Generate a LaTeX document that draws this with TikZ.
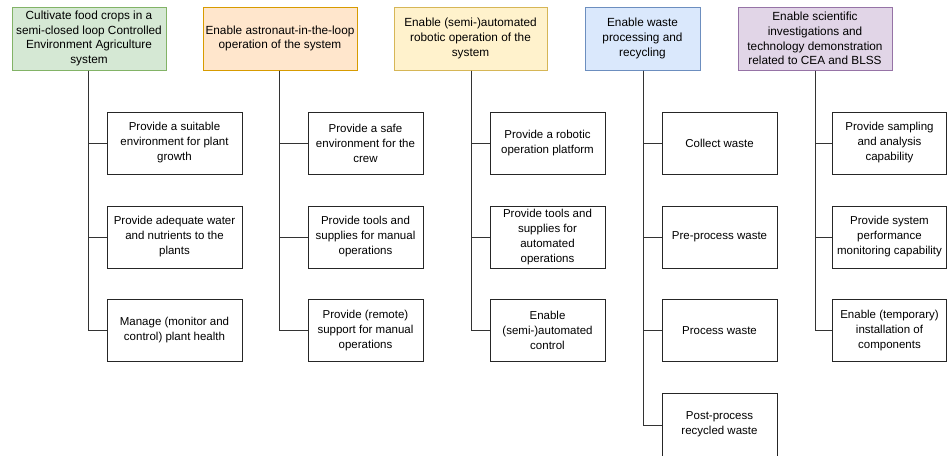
\documentclass[tikz,border=0pt]{standalone}
\usepackage{fontspec}
\setmainfont{Liberation Sans}
\definecolor{gfill}{HTML}{D5E8D4}\definecolor{gdraw}{HTML}{82B366}
\definecolor{ofill}{HTML}{FFE6CC}\definecolor{odraw}{HTML}{D79B00}
\definecolor{yfill}{HTML}{FFF2CC}\definecolor{ydraw}{HTML}{D6B656}
\definecolor{bfill}{HTML}{DAE8FC}\definecolor{bdraw}{HTML}{6C8EBF}
\definecolor{pfill}{HTML}{E1D5E7}\definecolor{pdraw}{HTML}{9673A6}
\definecolor{linec}{HTML}{333333}
\tikzset{
  hdr/.style={draw=#1draw, fill=#1fill, line width=1pt, inner sep=0pt, align=center,
    font=\fontsize{11.8}{14.7}\selectfont},
  sub/.style={draw=black!85, line width=0.9pt, inner sep=0pt, align=center,
    font=\fontsize{11.5}{15}\selectfont},
  conn/.style={draw=linec, line width=0.9pt}
}
\begin{document}
\begin{tikzpicture}[x=1pt,y=-1pt]
\useasboundingbox (0,0) rectangle (947,455);
\clip (0,0) rectangle (947,455);
% headers
\node[hdr=g, minimum width=154pt, minimum height=63pt] (h1) at (89,38.5) {Cultivate food crops in a\\semi-closed loop Controlled\\Environment Agriculture\\system};
\node[hdr=o, minimum width=154pt, minimum height=63pt] (h2) at (280,38.5) {Enable astronaut-in-the-loop\\operation of the system};
\node[hdr=y, minimum width=153pt, minimum height=63pt] (h3) at (470.5,38.5) {Enable (semi-)automated\\robotic operation of the\\system};
\node[hdr=b, minimum width=115pt, minimum height=63pt] (h4) at (642.5,38.5) {Enable waste\\processing and\\recycling};
\node[hdr=p, minimum width=154pt, minimum height=63pt] (h5) at (815,38.5) {Enable scientific\\investigations and\\technology demonstration\\related to CEA and BLSS};
% column 1
\node[sub, minimum width=135pt, minimum height=62pt] (a1) at (174.5,143) {Provide a suitable\\environment for plant\\growth};
\node[sub, minimum width=135pt, minimum height=62pt] (a2) at (174.5,237) {Provide adequate water\\and nutrients to the\\plants};
\node[sub, minimum width=135pt, minimum height=62pt] (a3) at (174.5,330.5) {Manage (monitor and\\control) plant health};
% column 2
\node[sub, minimum width=115pt, minimum height=62pt] (b1) at (365.5,143) {Provide a safe\\environment for the\\crew};
\node[sub, minimum width=115pt, minimum height=62pt] (b2) at (365.5,237) {Provide tools and\\supplies for manual\\operations};
\node[sub, minimum width=115pt, minimum height=62pt] (b3) at (365.5,330.5) {Provide (remote)\\support for manual\\operations};
% column 3
\node[sub, minimum width=115pt, minimum height=62pt] (c1) at (547.5,143) {Provide a robotic\\operation platform};
\node[sub, minimum width=115pt, minimum height=62pt] (c2) at (547.5,237) {Provide tools and\\supplies for\\automated\\operations};
\node[sub, minimum width=115pt, minimum height=62pt] (c3) at (547.5,330.5) {Enable\\(semi-)automated\\control};
% column 4
\node[sub, minimum width=115pt, minimum height=62pt] (d1) at (719.5,143) {Collect waste};
\node[sub, minimum width=115pt, minimum height=62pt] (d2) at (719.5,237) {Pre-process waste};
\node[sub, minimum width=115pt, minimum height=62pt] (d3) at (719.5,330.5) {Process waste};
\node[sub, minimum width=115pt, minimum height=64pt, anchor=north] (d4) at (719.5,393) {};
\node[font=\fontsize{11.5}{15}\selectfont, align=center] (d4t) at (719.5,424) {Post-process\\recycled waste};
% column 5
\node[sub, minimum width=114pt, minimum height=62pt] (e1) at (889.5,143) {Provide sampling\\and analysis\\capability};
\node[sub, minimum width=114pt, minimum height=62pt] (e2) at (889.5,237) {Provide system\\performance\\monitoring capability};
\node[sub, minimum width=114pt, minimum height=62pt] (e3) at (889.5,330.5) {Enable (temporary)\\installation of\\components};
% connectors
\foreach \h/\x/\list in {h1/88/{a1,a2,a3}, h2/279/{b1,b2,b3}, h3/471/{c1,c2,c3}, h4/643/{d1,d2,d3,d4}, h5/815/{e1,e2,e3}}{
  \foreach \c in \list {
    \draw[conn] (\h.south -| \x,0) |- (\c.west);
  }
}
\end{tikzpicture}
\end{document}
